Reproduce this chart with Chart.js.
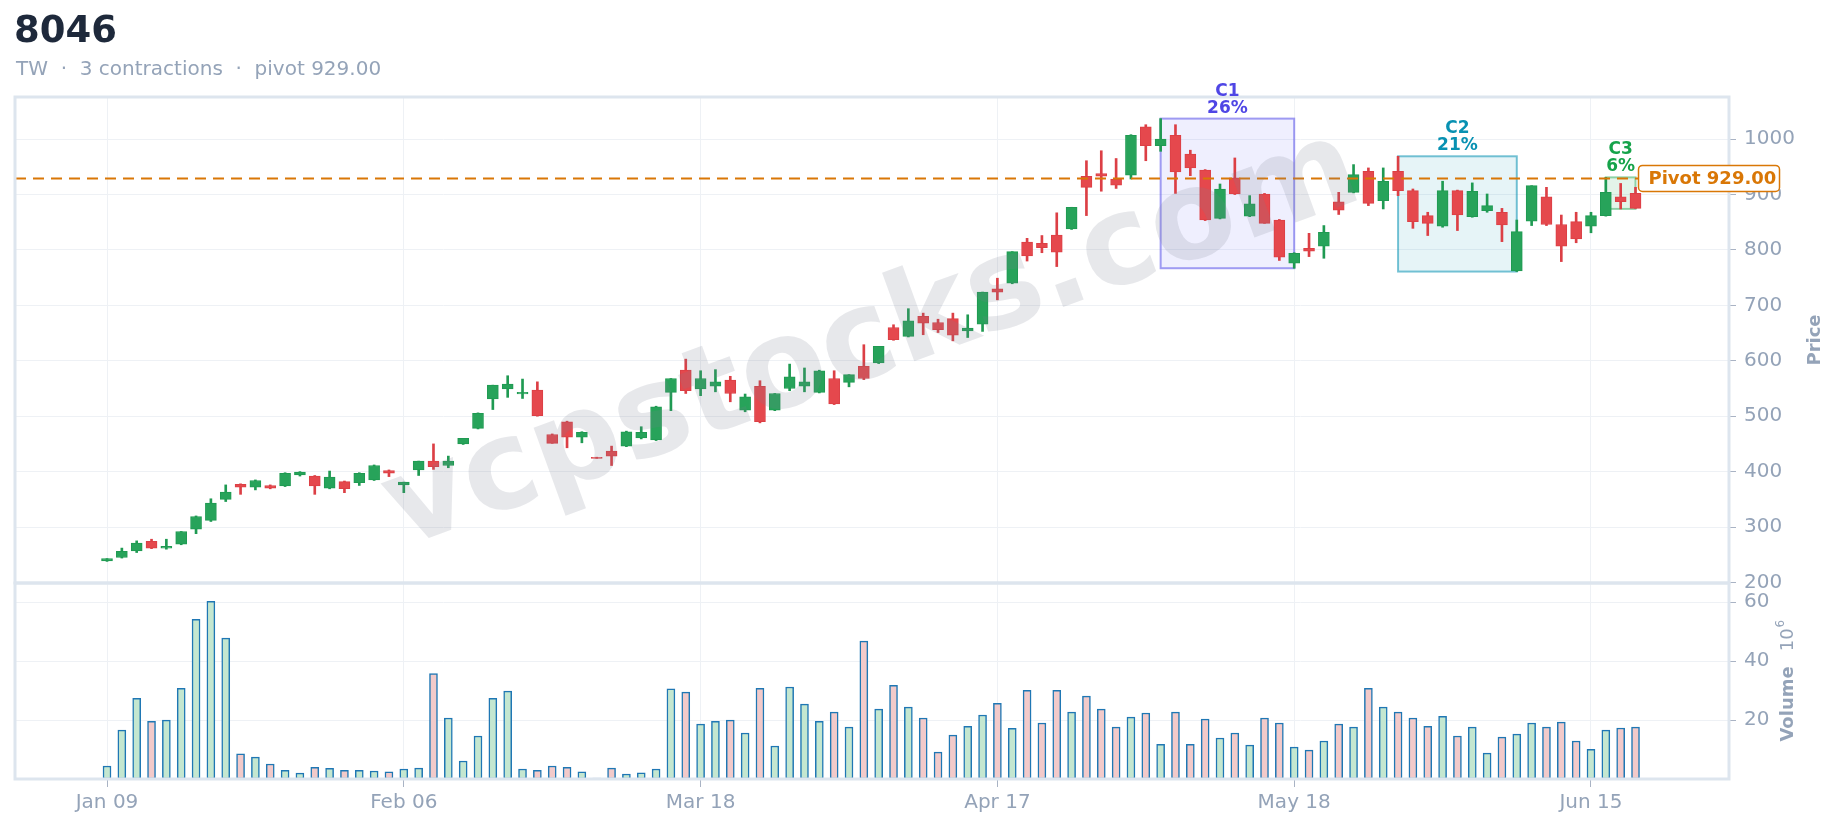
<!DOCTYPE html>
<html lang="en">

<head>
    <meta charset="UTF-8">
    <title>8046 - contractions</title>
    <script src="https://cdn.jsdelivr.net/npm/chart.js"></script>
    <style>
        html, body { margin: 0; padding: 0; background: #fff; }
        .pagina { position: relative; width: 1838px; height: 829px; font-family: "DejaVu Sans", sans-serif; }
        .pagina canvas { position: absolute; left: 0; top: 0; }
        .titulo { position: absolute; left: 14px; top: 11px; font-size: 37px; line-height: 37px; font-weight: bold; color: #1e293b; }
        .subtitulo { position: absolute; left: 16px; top: 58px; font-size: 20px; line-height: 20px; color: #94a3b8; white-space: pre; }
    </style>
</head>

<body>
    <div class="pagina">
        <canvas id="myChart" width="1838" height="829"></canvas>
        <div class="titulo">8046</div>
        <div class="subtitulo">TW  ·  3 contractions  ·  pivot 929.00</div>
    </div>

<script>
    // trading days shown on the x axis
    const dates = [
        'Jan 09', 'Jan 12', 'Jan 13', 'Jan 14', 'Jan 15', 'Jan 16', 'Jan 19', 'Jan 20', 'Jan 21', 'Jan 22',
        'Jan 23', 'Jan 26', 'Jan 27', 'Jan 28', 'Jan 29', 'Jan 30', 'Feb 02', 'Feb 03', 'Feb 04', 'Feb 05',
        'Feb 06', 'Feb 09', 'Feb 10', 'Feb 11', 'Feb 23', 'Feb 24', 'Feb 25', 'Feb 26', 'Mar 02', 'Mar 03',
        'Mar 04', 'Mar 05', 'Mar 06', 'Mar 09', 'Mar 10', 'Mar 11', 'Mar 12', 'Mar 13', 'Mar 16', 'Mar 17',
        'Mar 18', 'Mar 19', 'Mar 20', 'Mar 23', 'Mar 24', 'Mar 25', 'Mar 26', 'Mar 27', 'Mar 30', 'Mar 31',
        'Apr 01', 'Apr 02', 'Apr 07', 'Apr 08', 'Apr 09', 'Apr 10', 'Apr 13', 'Apr 14', 'Apr 15', 'Apr 16',
        'Apr 17', 'Apr 20', 'Apr 21', 'Apr 22', 'Apr 23', 'Apr 24', 'Apr 27', 'Apr 28', 'Apr 29', 'Apr 30',
        'May 04', 'May 05', 'May 06', 'May 07', 'May 08', 'May 11', 'May 12', 'May 13', 'May 14', 'May 15',
        'May 18', 'May 19', 'May 20', 'May 21', 'May 22', 'May 25', 'May 26', 'May 27', 'May 28', 'May 29',
        'Jun 01', 'Jun 02', 'Jun 03', 'Jun 04', 'Jun 05', 'Jun 08', 'Jun 09', 'Jun 10', 'Jun 11', 'Jun 12',
        'Jun 15', 'Jun 16', 'Jun 17', 'Jun 18'
    ];

    const opens = [
        239, 245, 257, 274, 262, 269, 296, 312, 350, 377,
        372, 375, 374, 394, 392, 370, 382, 380, 385, 402,
        376, 403, 419, 411, 450, 478, 531, 549, 540, 547,
        467, 490, 462, 426, 437, 446, 461, 457, 543, 583,
        549, 554, 565, 511, 554, 511, 550, 554, 543, 568,
        561, 590, 596, 660, 644, 680, 669, 676, 654, 666,
        730, 740, 814, 812, 827, 838, 933, 938, 928, 935,
        1022, 988, 1007, 973, 944, 857, 930, 861, 901, 854,
        776, 803, 807, 887, 904, 942, 889, 942, 907, 862,
        843, 907, 860, 871, 868, 762, 852, 896, 846, 851,
        843, 862, 896, 902
    ];
    const highs = [
        243, 262, 275, 278, 278, 292, 320, 351, 376, 378,
        385, 376, 398, 400, 393, 401, 383, 398, 412, 403,
        381, 419, 450, 428, 460, 506, 556, 573, 567, 562,
        468, 491, 472, 426, 446, 473, 481, 518, 568, 603,
        582, 584, 572, 540, 564, 541, 594, 587, 583, 582,
        575, 629, 626, 665, 694, 686, 675, 686, 683, 724,
        749, 797, 821, 826, 867, 877, 961, 979, 965, 1008,
        1026, 1037, 1026, 980, 945, 919, 966, 898, 902, 855,
        795, 830, 844, 904, 954, 948, 948, 969, 910, 868,
        924, 908, 921, 901, 875, 854, 916, 913, 863, 868,
        868, 931, 920, 913
    ];
    const lows = [
        238, 244, 254, 261, 260, 268, 288, 310, 346, 359,
        367, 369, 373, 392, 359, 369, 362, 375, 384, 391,
        362, 393, 404, 407, 449, 477, 512, 534, 532, 500,
        451, 443, 452, 424, 411, 445, 459, 456, 510, 541,
        537, 544, 526, 508, 488, 510, 546, 544, 542, 521,
        553, 566, 595, 637, 643, 647, 651, 636, 642, 653,
        710, 739, 780, 795, 770, 837, 862, 906, 911, 928,
        961, 978, 902, 934, 853, 856, 900, 860, 848, 781,
        767, 788, 785, 864, 903, 880, 874, 898, 839, 826,
        841, 835, 859, 868, 815, 761, 844, 844, 779, 813,
        831, 861, 874, 875
    ];
    const closes = [
        243, 256, 271, 262, 265, 292, 319, 343, 363, 372,
        384, 370, 397, 399, 374, 390, 369, 397, 411, 397,
        381, 419, 409, 419, 460, 505, 556, 558, 543, 501,
        451, 462, 471, 424, 428, 472, 471, 517, 568, 546,
        568, 562, 541, 535, 490, 541, 571, 562, 582, 522,
        575, 568, 626, 638, 672, 668, 656, 646, 659, 724,
        724, 797, 789, 804, 796, 877, 913, 933, 917, 1007,
        988, 1000, 941, 948, 854, 910, 901, 883, 848, 787,
        794, 798, 832, 872, 936, 884, 924, 907, 851, 848,
        907, 863, 906, 880, 845, 833, 916, 846, 807, 820,
        862, 904, 887, 875
    ];
    // volume in millions of shares
    const volumes = [
        4.4, 16.6, 27.4, 19.6, 20.0, 30.8, 54.2, 60.3, 47.8, 8.5,
        7.4, 5.1, 2.9, 2.0, 4.0, 3.6, 2.9, 2.9, 2.7, 2.4,
        3.4, 3.7, 35.8, 20.7, 6.1, 14.6, 27.4, 29.8, 3.4, 2.9,
        4.4, 4.0, 2.4, 0.3, 3.7, 1.7, 2.1, 3.4, 30.6, 29.5,
        18.6, 19.6, 20.0, 15.6, 30.8, 11.2, 31.2, 25.4, 19.6, 22.7,
        17.6, 46.8, 23.7, 31.8, 24.4, 20.7, 9.1, 14.9, 17.9, 21.7,
        25.7, 17.2, 30.1, 19.0, 30.1, 22.7, 28.1, 23.7, 17.6, 21.0,
        22.4, 11.8, 22.7, 11.8, 20.3, 13.9, 15.6, 11.5, 20.7, 19.0,
        10.8, 9.8, 12.9, 18.6, 17.6, 30.8, 24.4, 22.7, 20.7, 17.9,
        21.3, 14.6, 17.6, 8.8, 14.2, 15.2, 19.0, 17.6, 19.3, 12.9,
        10.1, 16.6, 17.3, 17.6
    ];

    const xTicks = [0, 20, 40, 60, 80, 100];
    const priceTicks = [200, 300, 400, 500, 600, 700, 800, 900, 1000];
    const volumeTicks = [20, 40, 60];

    const pivot = 929;
    const contractionNames = ['C1', 'C2', 'C3'];
    const contractionDepth = ['26%', '21%', '6%'];
    const contractionStart = [71, 87, 101];
    const contractionEnd = [80, 95, 103];
    const contractionHigh = [1037, 969, 931];
    const contractionLow = [767, 761, 874];

    const corTexto = ['#4f46e5', '#0891b2', '#16a34a'];
    const corBorda = ['rgba(99, 91, 235, 0.6)', 'rgba(8, 145, 178, 0.55)', 'rgba(22, 163, 74, 0.45)'];
    const corFundo = ['rgba(99, 102, 241, 0.1)', 'rgba(8, 145, 178, 0.1)', 'rgba(22, 163, 74, 0.12)'];

    const subiu = closes.map((c, i) => c >= opens[i]);
    const corCandle = subiu.map(s => s ? '#27a35a' : '#e5484d');
    const corContorno = subiu.map(s => s ? '#1f9a52' : '#dc3f45');
    const corVolume = subiu.map(s => s ? '#c4e7d0' : '#f2caca');

    Chart.defaults.font.family = '"DejaVu Sans", sans-serif';

    const desenhos = {
        id: 'desenhos',
        beforeDatasetsDraw(chart) {
            const { ctx, scales: { x, y } } = chart;
            ctx.save();
            for (let k = 0; k < contractionNames.length; k++) {
                const left = x.getPixelForValue(contractionStart[k]);
                const right = x.getPixelForValue(contractionEnd[k]);
                const top = y.getPixelForValue(contractionHigh[k]);
                const bottom = y.getPixelForValue(contractionLow[k]);
                ctx.fillStyle = corFundo[k];
                ctx.fillRect(left, top, right - left, bottom - top);
                ctx.strokeStyle = corBorda[k];
                ctx.lineWidth = 2;
                ctx.strokeRect(left, top, right - left, bottom - top);
            }
            ctx.restore();
        },
        afterDatasetsDraw(chart) {
            const { ctx, chartArea, scales: { y } } = chart;
            const py = y.getPixelForValue(pivot);
            ctx.save();
            ctx.strokeStyle = '#d97706';
            ctx.lineWidth = 2;
            ctx.setLineDash([11, 7]);
            ctx.beginPath();
            ctx.moveTo(chartArea.left, py);
            ctx.lineTo(chartArea.right, py);
            ctx.stroke();
            ctx.restore();
        },
        afterDraw(chart) {
            const { ctx, chartArea, scales: { x, y, yVol } } = chart;
            ctx.save();

            // frames of the two panes
            ctx.strokeStyle = '#dde5ee';
            ctx.lineWidth = 3;
            ctx.strokeRect(chartArea.left, y.top, chartArea.right - chartArea.left, y.bottom - y.top);
            ctx.strokeRect(chartArea.left, yVol.top, chartArea.right - chartArea.left, yVol.bottom - yVol.top);

            // contraction labels
            ctx.font = 'bold 17px "DejaVu Sans"';
            ctx.textAlign = 'center';
            ctx.textBaseline = 'alphabetic';
            for (let k = 0; k < contractionNames.length; k++) {
                const mid = (x.getPixelForValue(contractionStart[k]) + x.getPixelForValue(contractionEnd[k])) / 2;
                const top = y.getPixelForValue(contractionHigh[k]);
                ctx.fillStyle = corTexto[k];
                ctx.fillText(contractionDepth[k], mid, top - 6);
                ctx.fillText(contractionNames[k], mid, top - 23);
            }

            // pivot label
            const py = y.getPixelForValue(pivot);
            const bx = x.getPixelForValue(dates.length - 1) + 3;
            ctx.beginPath();
            ctx.roundRect(bx, py - 13, 141, 26, 4);
            ctx.fillStyle = '#ffffff';
            ctx.fill();
            ctx.strokeStyle = '#d97706';
            ctx.lineWidth = 1.5;
            ctx.stroke();
            ctx.fillStyle = '#d97706';
            ctx.font = 'bold 18px "DejaVu Sans"';
            ctx.textAlign = 'left';
            ctx.textBaseline = 'middle';
            ctx.fillText('Pivot 929.00', bx + 10, py + 1);

            // axis titles
            ctx.fillStyle = '#94a3b8';
            ctx.save();
            ctx.translate(chartArea.right + 86, (y.top + y.bottom) / 2);
            ctx.rotate(-Math.PI / 2);
            ctx.textAlign = 'center';
            ctx.font = 'bold 18px "DejaVu Sans"';
            ctx.fillText('Price', 0, 0);
            ctx.restore();

            ctx.save();
            ctx.translate(chartArea.right + 59, (yVol.top + yVol.bottom) / 2);
            ctx.rotate(-Math.PI / 2);
            ctx.textAlign = 'left';
            ctx.font = 'bold 18px "DejaVu Sans"';
            const w1 = ctx.measureText('Volume').width;
            ctx.font = '18px "DejaVu Sans"';
            const w2 = ctx.measureText('10').width;
            const total = w1 + 15 + w2 + 8;
            let px = -total / 2;
            ctx.font = 'bold 18px "DejaVu Sans"';
            ctx.fillText('Volume', px, 0);
            px += w1 + 15;
            ctx.font = '18px "DejaVu Sans"';
            ctx.fillText('10', px, 0);
            ctx.font = '12px "DejaVu Sans"';
            ctx.fillText('6', px + w2 + 1, -7);
            ctx.restore();

            // watermark
            ctx.save();
            ctx.translate(873, 342);
            ctx.rotate(-20 * Math.PI / 180);
            ctx.font = 'bold 124px "DejaVu Sans"';
            ctx.textAlign = 'center';
            ctx.textBaseline = 'middle';
            ctx.fillStyle = 'rgba(120, 128, 145, 0.18)';
            ctx.fillText('vcpstocks.com', 0, 0);
            ctx.restore();

            ctx.restore();
        }
    };

    const ctxGrafico = document.getElementById('myChart');

    const myChart = new Chart(ctxGrafico, {
        type: 'bar',
        data: {
            datasets: [
                {
                    label: 'Pavio',
                    data: dates.map((d, i) => ({ x: i, y: [lows[i], highs[i]] })),
                    backgroundColor: corContorno,
                    barThickness: 2,
                    grouped: false,
                    yAxisID: 'y',
                    order: 3
                },
                {
                    label: 'Corpo',
                    data: dates.map((d, i) => ({ x: i, y: [opens[i], closes[i]] })),
                    backgroundColor: corCandle,
                    borderColor: corContorno,
                    borderWidth: 1,
                    borderSkipped: false,
                    barThickness: 11,
                    grouped: false,
                    yAxisID: 'y',
                    order: 2
                },
                {
                    label: 'Volume',
                    data: dates.map((d, i) => ({ x: i, y: volumes[i] })),
                    backgroundColor: corVolume,
                    borderColor: '#1f77b4',
                    borderWidth: 1.5,
                    borderSkipped: false,
                    barThickness: 8,
                    grouped: false,
                    yAxisID: 'yVol',
                    order: 1
                }
            ]
        },
        options: {
            responsive: false,
            animation: false,
            layout: {
                padding: { left: 15, top: 97, right: 0, bottom: 0 }
            },
            plugins: {
                legend: { display: false },
                tooltip: { enabled: false }
            },
            scales: {
                x: {
                    type: 'linear',
                    offset: false,
                    min: -6.2,
                    max: 109.3,
                    afterBuildTicks: s => { s.ticks = xTicks.map(v => ({ value: v })); },
                    afterFit: s => { s.height = 50; },
                    ticks: {
                        callback: v => dates[v],
                        color: '#94a3b8',
                        font: { size: 20 },
                        padding: 4,
                        maxRotation: 0,
                        autoSkip: false
                    },
                    grid: { offset: false, color: '#eef1f5', tickColor: '#a9b3c4', tickLength: 8 },
                    border: { display: false }
                },
                y: {
                    position: 'right',
                    stack: 'paineis',
                    stackWeight: 486,
                    min: 199,
                    max: 1076,
                    afterBuildTicks: s => { s.ticks = priceTicks.map(v => ({ value: v })); },
                    afterFit: s => { s.width = 109; },
                    ticks: { callback: v => String(v), color: '#94a3b8', font: { size: 20 }, padding: 8 },
                    grid: { color: '#eef1f5', tickColor: '#a9b3c4', tickLength: 7 },
                    border: { display: false }
                },
                yVol: {
                    position: 'right',
                    stack: 'paineis',
                    stackWeight: 196,
                    min: 0,
                    max: 66.5,
                    afterBuildTicks: s => { s.ticks = volumeTicks.map(v => ({ value: v })); },
                    afterFit: s => { s.width = 109; },
                    ticks: { callback: v => String(v), color: '#94a3b8', font: { size: 20 }, padding: 8 },
                    grid: { color: '#eef1f5', tickColor: '#a9b3c4', tickLength: 7 },
                    border: { display: false }
                }
            }
        },
        plugins: [desenhos]
    });
</script>
</body>

</html>
